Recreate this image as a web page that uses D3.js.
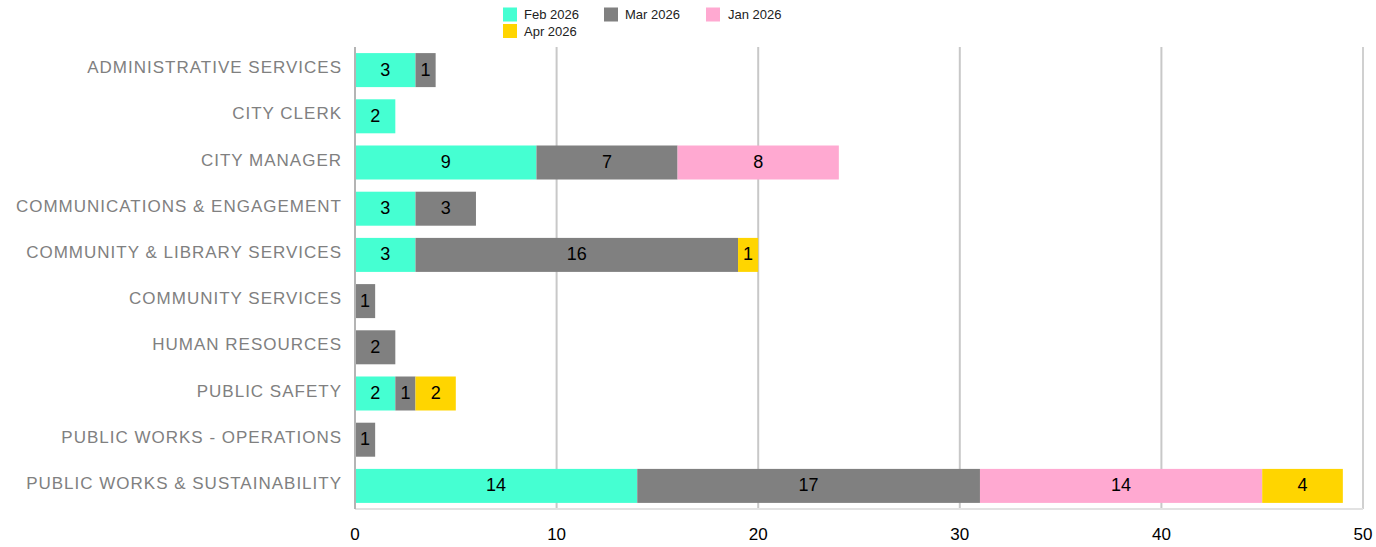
<!DOCTYPE html>
<html>
<head>
<meta charset="utf-8">
<script src="https://cdn.jsdelivr.net/npm/d3@7"></script>
<style>
  html, body { margin: 0; padding: 0; background: #fff; }
  svg { display: block; font-family: Arial, "Liberation Sans", sans-serif; }
</style>
</head>
<body>
<svg id="chart" width="1376" height="547"></svg>
<script>
const categories = [
  "ADMINISTRATIVE SERVICES",
  "CITY CLERK",
  "CITY MANAGER",
  "COMMUNICATIONS & ENGAGEMENT",
  "COMMUNITY & LIBRARY SERVICES",
  "COMMUNITY SERVICES",
  "HUMAN RESOURCES",
  "PUBLIC SAFETY",
  "PUBLIC WORKS - OPERATIONS",
  "PUBLIC WORKS & SUSTAINABILITY"
];
const seriesNames = ["Feb 2026", "Mar 2026", "Jan 2026", "Apr 2026"];
const feb2026 = [3, 2, 9, 3, 3, 0, 0, 2, 0, 14];
const mar2026 = [1, 0, 7, 3, 16, 1, 2, 1, 1, 17];
const jan2026 = [0, 0, 8, 0, 0, 0, 0, 0, 0, 14];
const apr2026 = [0, 0, 0, 0, 1, 0, 0, 2, 0, 4];
const xTicks = [0, 10, 20, 30, 40, 50];
const colors = ["#45FFD2", "#808080", "#FFA9D1", "#FFD500"];

const seriesValues = [feb2026, mar2026, jan2026, apr2026];
const rows = categories.map((c, i) => {
  const r = { cat: c };
  seriesNames.forEach((s, j) => r[s] = seriesValues[j][i]);
  return r;
});

const svg = d3.select("#chart");
const x = d3.scaleLinear().domain([0, 50]).range([355, 1363]);
const y = d3.scaleBand().domain(categories).range([47, 509]).paddingInner(0.264).paddingOuter(0.132);

// gridlines
svg.append("g").selectAll("line").data([10, 20, 30, 40]).join("line")
  .attr("x1", d => x(d)).attr("x2", d => x(d))
  .attr("y1", 47).attr("y2", 509)
  .attr("stroke", "#c8c8c8").attr("stroke-width", 2);
// right & bottom borders
svg.append("line").attr("x1", x(50)).attr("x2", x(50)).attr("y1", 47).attr("y2", 509)
  .attr("stroke", "#d0d0d0").attr("stroke-width", 2);
svg.append("line").attr("x1", x(0)).attr("x2", x(50)).attr("y1", 509).attr("y2", 509)
  .attr("stroke", "#e2e2e2").attr("stroke-width", 2);

const stack = d3.stack().keys(seriesNames);
const stacked = stack(rows);

const g = svg.append("g");
stacked.forEach((layer, j) => {
  const grp = g.append("g");
  grp.selectAll("rect").data(layer.filter(d => d[1] - d[0] > 0)).join("rect")
    .attr("x", d => x(d[0]))
    .attr("width", d => x(d[1]) - x(d[0]))
    .attr("y", d => y(d.data.cat))
    .attr("height", y.bandwidth())
    .attr("fill", colors[j]);
  grp.selectAll("text").data(layer.filter(d => d[1] - d[0] > 0)).join("text")
    .attr("x", d => (x(d[0]) + x(d[1])) / 2)
    .attr("y", d => y(d.data.cat) + y.bandwidth() / 2 - 1)
    .attr("dy", "0.36em")
    .attr("text-anchor", "middle")
    .attr("font-size", 18)
    .attr("fill", "#000")
    .text(d => d[1] - d[0]);
});

// left axis line
svg.append("line").attr("x1", x(0)).attr("x2", x(0)).attr("y1", 47).attr("y2", 509)
  .attr("stroke", "#b4b4b4").attr("stroke-width", 2);

// category labels
svg.append("g").selectAll("text").data(categories).join("text")
  .attr("x", 342)
  .attr("y", d => y(d) + y.bandwidth() / 2 - 3)
  .attr("dy", "0.36em")
  .attr("text-anchor", "end")
  .attr("font-size", 17)
  .attr("letter-spacing", "1px")
  .attr("fill", "#808080")
  .text(d => d);

// x tick labels
svg.append("g").selectAll("text").data(xTicks).join("text")
  .attr("x", d => x(d))
  .attr("y", 534)
  .attr("dy", "0.36em")
  .attr("text-anchor", "middle")
  .attr("font-size", 17)
  .attr("fill", "#000")
  .text(d => d);

// legend
const legendPos = [[503, 7.5], [604, 7.5], [706, 7.5], [503, 24]];
const lg = svg.append("g").selectAll("g").data(seriesNames).join("g")
  .attr("transform", (d, i) => `translate(${legendPos[i][0]},${legendPos[i][1]})`);
lg.append("rect").attr("width", 14).attr("height", 14).attr("fill", (d, i) => colors[i]);
lg.append("text").attr("x", (d, i) => [21, 21, 22, 21][i]).attr("y", 7).attr("dy", "0.36em")
  .attr("font-size", 13).attr("fill", "#222").text(d => d);
</script>
</body>
</html>
